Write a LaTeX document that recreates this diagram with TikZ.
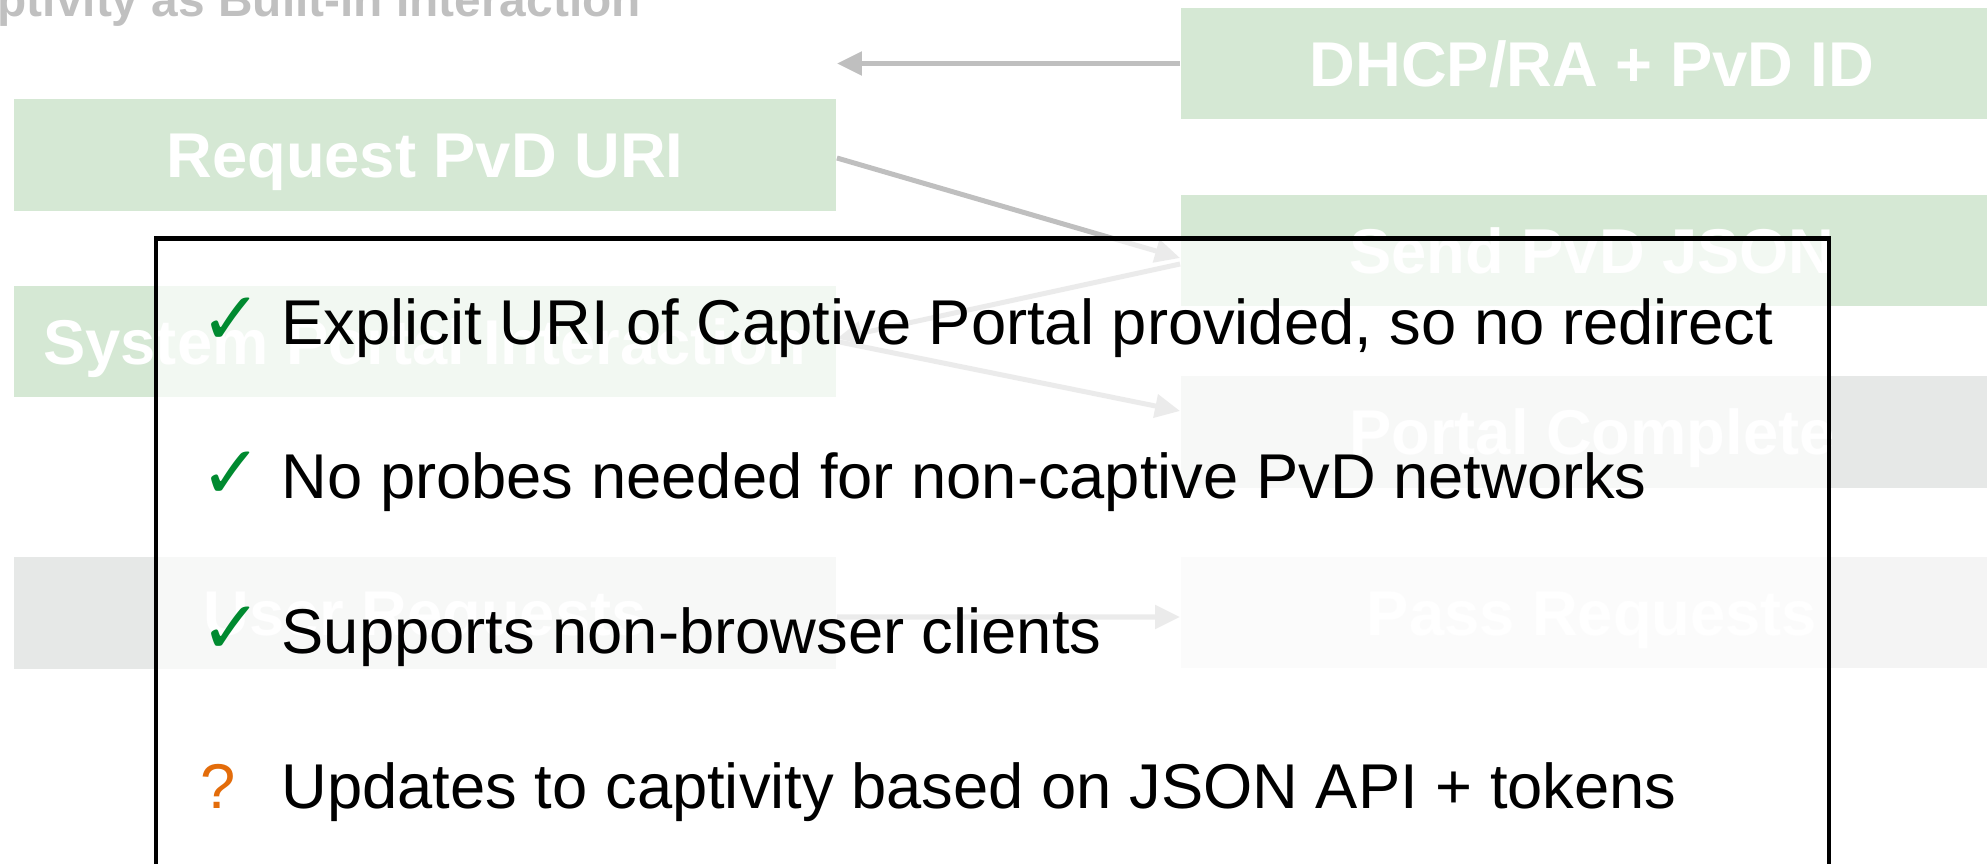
\documentclass[tikz,border=0pt]{standalone}
\usepackage{fontspec}
\setmainfont{Liberation Sans}
\newfontfamily\symfont{DejaVu Sans}
\usetikzlibrary{positioning,arrows.meta}

\definecolor{boxgreen}{HTML}{D5E8D4}
\definecolor{boxgray}{HTML}{E6E8E7}
\definecolor{boxfaint}{HTML}{F4F4F4}
\definecolor{linegray}{HTML}{BFBFBF}
\definecolor{titlegray}{HTML}{C0C0C0}
\definecolor{okgreen}{HTML}{008A30}
\definecolor{qorange}{HTML}{E36C0A}
\newcommand\cmark{\textcolor{okgreen}{\symfont\fontsize{21}{24}\selectfont ✓}}
\newcommand\qmark{\textcolor{qorange}{?}}

\begin{document}
\begin{tikzpicture}[x=0.01cm,y=-0.01cm,
	box/.style={fill=#1,text=white,inner sep=0,minimum width=8.22cm,minimum height=1.115cm,text height=0.45cm,text depth=0cm,font=\bfseries\fontsize{18}{21}\selectfont},
	flow/.style={draw=linegray,line width=0.05cm,-{Triangle[length=0.25cm,width=0.23cm]}},
	itemtext/.style={anchor=base west,inner sep=0,font=\fontsize{18}{21}\selectfont}]
\useasboundingbox (0,0) rectangle (1987,864);
\clip (0,0) rectangle (1987,864);

\node[anchor=base west,inner sep=0,text=titlegray,font=\bfseries\fontsize{13.6}{16}\selectfont] (title) at (-3,17) {ptivity as Built-in Interaction};

% host side
\foreach \y/\n/\c/\t in {155/req/boxgreen/Request PvD URI,341.5/sys/boxgreen/System Portal Interaction,613/user/boxgray/User Requests}
	\node[box=\c] (\n) at (425,\y) {\t};
% network side
\node[box=boxgreen] (dhcp) at (1592,63.5) {DHCP/RA + PvD ID};
\foreach \y/\n/\c/\t in {250.5/send/boxgreen/Send PvD JSON,432/done/boxgray/Portal Complete,612.5/pass/boxfaint/Pass Requests}
	\node[box=\c] (\n) at (1592,\y) {\t};

\coordinate (host) at (req.east |- dhcp.west);
\draw[flow](dhcp.west)--(host);
\draw[flow]([yshift=-0.03cm]req.east)--([yshift=-0.075cm]send.west);
\draw[flow]([yshift=-0.135cm]send.west)--([yshift=0.03cm]sys.east);
\draw[flow](sys.east)--([yshift=0.21cm]done.west);
\draw[flow]([yshift=-0.04cm]user.east)--([yshift=-0.045cm]pass.west);

% summary panel
\draw[line width=0.045cm,fill=white,fill opacity=0.7] (156,238.5) rectangle (1829,900);
\foreach \i/\y/\m/\t in {1/345/\cmark/{Explicit URI of Captive Portal provided, so no redirect},2/499/\cmark/{No probes needed for non-captive PvD networks},3/653/\cmark/{Supports non-browser clients},4/808/\qmark/{Updates to captivity based on JSON API + tokens}}
{
	\node[itemtext] (mark\i) at (200,\y) {\m};
	\node[itemtext] (item\i) at (281,\y) {\t};
}

\end{tikzpicture}
\end{document}
